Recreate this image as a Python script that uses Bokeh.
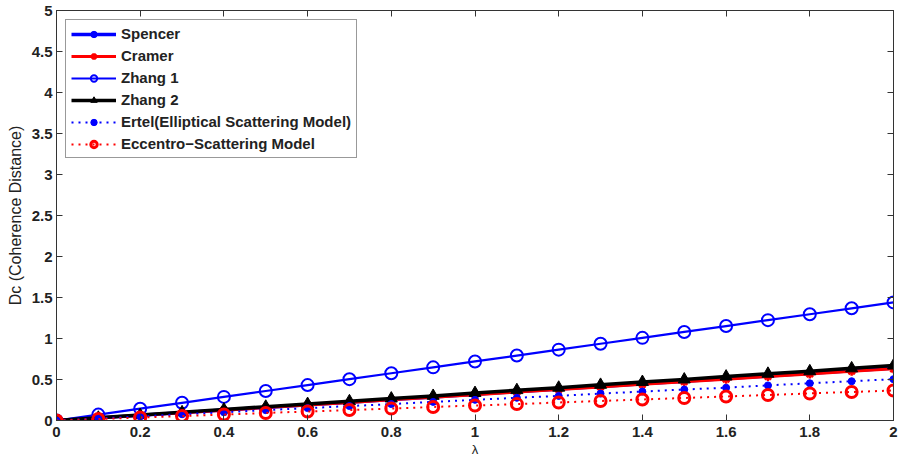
from bokeh.plotting import figure
from bokeh.models import LinearAxis, FixedTicker, Legend, LegendItem
from bokeh.embed import file_html
from bokeh.resources import INLINE

lam = [0.0, 0.1, 0.2, 0.3, 0.4, 0.5, 0.6, 0.7, 0.8, 0.9, 1.0,
       1.1, 1.2, 1.3, 1.4, 1.5, 1.6, 1.7, 1.8, 1.9, 2.0]
spencer = [0, 0.032, 0.064, 0.096, 0.128, 0.16, 0.192, 0.224, 0.256, 0.288, 0.32,
           0.352, 0.384, 0.416, 0.448, 0.48, 0.512, 0.544, 0.576, 0.608, 0.64]
cramer = [0, 0.032, 0.063, 0.095, 0.126, 0.158, 0.189, 0.22, 0.252, 0.284, 0.315,
          0.347, 0.378, 0.41, 0.441, 0.473, 0.504, 0.536, 0.567, 0.6, 0.63]
zhang1 = [0, 0.072, 0.144, 0.216, 0.288, 0.36, 0.432, 0.504, 0.576, 0.648, 0.72,
          0.792, 0.864, 0.936, 1.008, 1.08, 1.152, 1.224, 1.296, 1.368, 1.44]
zhang2 = [0, 0.034, 0.067, 0.10, 0.134, 0.168, 0.201, 0.235, 0.268, 0.30, 0.335,
          0.37, 0.40, 0.435, 0.47, 0.50, 0.536, 0.57, 0.60, 0.636, 0.67]
ertel = [0, 0.025, 0.05, 0.076, 0.1, 0.126, 0.151, 0.176, 0.2, 0.227, 0.252,
         0.277, 0.3, 0.328, 0.353, 0.378, 0.4, 0.428, 0.454, 0.479, 0.504]
eccentro = [0, 0.018, 0.037, 0.055, 0.073, 0.092, 0.11, 0.128, 0.146, 0.165, 0.183,
            0.2, 0.22, 0.238, 0.256, 0.275, 0.293, 0.311, 0.33, 0.348, 0.366]

x_ticks = [0, 0.2, 0.4, 0.6, 0.8, 1.0, 1.2, 1.4, 1.6, 1.8, 2.0]
x_tick_labels = ["0", "0.2", "0.4", "0.6", "0.8", "1", "1.2", "1.4", "1.6", "1.8", "2"]
y_ticks = [0, 0.5, 1, 1.5, 2, 2.5, 3, 3.5, 4, 4.5, 5]
y_tick_labels = ["0", "0.5", "1", "1.5", "2", "2.5", "3", "3.5", "4", "4.5", "5"]

FONT = "Liberation Sans"

p = figure(width=898, height=459, output_backend="svg", toolbar_location=None,
           x_range=(0, 2), y_range=(0, 5),
           min_border_left=56, min_border_right=5, min_border_top=10, min_border_bottom=39)
p.xgrid.visible = False
p.ygrid.visible = False
p.outline_line_color = "#333333"
p.outline_line_width = 1
p.background_fill_color = "white"
p.border_fill_color = "white"

def style_axis(ax, ticks, labels, show_labels=True):
    ax.ticker = FixedTicker(ticks=ticks)
    if show_labels:
        ax.major_label_overrides = {t: l for t, l in zip(ticks, labels)}
    else:
        ax.major_label_overrides = {t: "" for t in ticks}
    ax.major_tick_in = 6
    ax.major_tick_out = 0
    ax.minor_tick_in = 0
    ax.minor_tick_out = 0
    ax.axis_line_color = "#333333"
    ax.major_tick_line_color = "#333333"
    ax.major_label_text_font = FONT
    ax.major_label_text_font_style = "bold"
    ax.major_label_text_font_size = "15px"
    ax.major_label_text_color = "#222222"
    ax.major_label_standoff = 4

style_axis(p.xaxis[0], x_ticks, x_tick_labels)
style_axis(p.yaxis[0], y_ticks, y_tick_labels)
p.xaxis[0].major_label_standoff = 6
p.xaxis[0].axis_label = "λ"
p.yaxis[0].axis_label = "Dc (Coherence Distance)"
for ax in (p.xaxis[0], p.yaxis[0]):
    ax.axis_label_text_font = FONT
    ax.axis_label_text_font_style = "normal"
    ax.axis_label_text_color = "#222222"
p.xaxis[0].axis_label_text_font_size = "13px"
p.xaxis[0].axis_label_standoff = 2
p.yaxis[0].axis_label_text_font_size = "16px"
p.yaxis[0].axis_label_standoff = 5

top = LinearAxis()
style_axis(top, x_ticks, x_tick_labels, show_labels=False)
p.add_layout(top, "above")
right = LinearAxis()
style_axis(right, y_ticks, y_tick_labels, show_labels=False)
p.add_layout(right, "right")

items = []
# Spencer
l1 = p.line(lam, spencer, line_color="#0000FF", line_width=3.5)
m1 = p.scatter(lam, spencer, marker="circle", size=5, fill_color="#0000FF", line_color="#0000FF")
items.append(LegendItem(label="Spencer", renderers=[l1, m1]))
# Cramer
l2 = p.line(lam, cramer, line_color="#FF0000", line_width=3)
m2 = p.scatter(lam, cramer, marker="asterisk", size=9, line_color="#FF0000", line_width=2.5)
items.append(LegendItem(label="Cramer", renderers=[l2, m2]))
# Zhang 1
l3 = p.line(lam, zhang1, line_color="#0000FF", line_width=2.2)
m3 = p.scatter(lam, zhang1, marker="circle", size=12, fill_color=None, line_color="#0000FF", line_width=2)
items.append(LegendItem(label="Zhang 1", renderers=[l3, m3]))
# Zhang 2
l4 = p.line(lam, zhang2, line_color="black", line_width=3.5)
m4 = p.scatter(lam, zhang2, marker="triangle", size=12, fill_color="black", line_color="black")
items.append(LegendItem(label="Zhang 2", renderers=[l4, m4]))
# Ertel
l5 = p.line(lam, ertel, line_color="#0000FF", line_width=2, line_dash="2 5")
m5 = p.scatter(lam, ertel, marker="circle", size=7, fill_color="#0000FF", line_color="#0000FF")
items.append(LegendItem(label="Ertel(Elliptical Scattering Model)", renderers=[l5, m5]))
# Eccentro
l6 = p.line(lam, eccentro, line_color="#FF0000", line_width=2, line_dash="2 5")
m6 = p.scatter(lam, eccentro, marker="circle", size=11, fill_color=None, line_color="#FF0000", line_width=3)
items.append(LegendItem(label="Eccentro\u2212Scattering Model", renderers=[l6, m6]))

legend = Legend(items=items, location="top_left")
legend.border_line_color = "#333333"
legend.border_line_width = 1
legend.background_fill_color = "white"
legend.background_fill_alpha = 1
legend.label_text_font = FONT
legend.label_text_font_style = "bold"
legend.label_text_font_size = "15px"
legend.label_text_color = "#222222"
legend.glyph_width = 45
legend.glyph_height = 16
legend.label_standoff = 5
legend.spacing = 5
legend.padding = 5
legend.margin = 9
legend.label_height = 16
p.add_layout(legend, "center")

open("out.html", "w").write(file_html(p, INLINE))
